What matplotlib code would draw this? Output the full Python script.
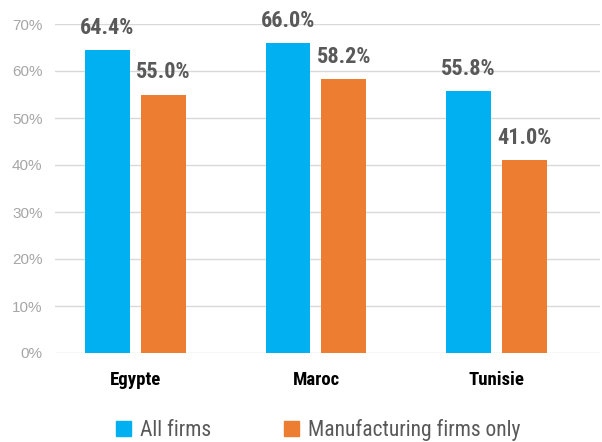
import numpy as np
import matplotlib.pyplot as plt
from matplotlib.patches import Patch

countries = ['Egypte', 'Maroc', 'Tunisie']
all_firms = [64.4, 66.0, 55.8]
manuf_only = [55.0, 58.2, 41.0]
series_names = ['All firms', 'Manufacturing firms only']

BLUE = '#00B0F0'
ORANGE = '#ED7D31'
NARROW = ['Roboto Condensed', 'Liberation Sans Narrow', 'Liberation Sans']

fig = plt.figure(figsize=(6.02, 4.42), dpi=100)
ax = fig.add_axes([55 / 602, 89 / 442, 545 / 602, 329 / 442])

x = np.arange(len(countries))
w = 0.249
off = 0.155
b1 = ax.bar(x - off, all_firms, w, color=BLUE, zorder=3)
b2 = ax.bar(x + off, manuf_only, w, color=ORANGE, zorder=3)

# valeurs au-dessus des barres
for bars, vals in ((b1, all_firms), (b2, manuf_only)):
    for rect, v in zip(bars, vals):
        ax.annotate(f'{v:.1f}%', (rect.get_x() + rect.get_width() / 2, v),
                    xytext=(0, 8), textcoords='offset points',
                    ha='center', va='bottom', fontsize=16, fontweight='bold',
                    color='#595959', family=NARROW)

ax.set_xlim(-0.446, 2.574)
ax.set_ylim(0, 70)
ax.set_yticks(np.arange(0, 71, 10))
ax.set_yticklabels([f'{t}%' for t in range(0, 71, 10)], fontsize=11,
                   color='#A6A6A6', family='Liberation Sans')
ax.set_xticks(x)
ax.set_xticklabels(countries, fontsize=13.5, fontweight='bold', color='black',
                   family=NARROW)
ax.tick_params(axis='both', length=0)
ax.tick_params(axis='x', pad=13)
ax.tick_params(axis='y', pad=9)
ax.grid(axis='y', color='#D9D9D9', lw=1, zorder=0)
for s in ax.spines.values():
    s.set_visible(False)

handles = [Patch(color=BLUE), Patch(color=ORANGE)]
fig.legend(handles, series_names, loc='center', bbox_to_anchor=(318 / 602, 12 / 442),
           ncol=2, frameon=False, handlelength=0.7, handleheight=0.7,
           handletextpad=0.4, columnspacing=3.4,
           prop={'family': NARROW, 'size': 15.5}, labelcolor='#595959')

fig.savefig('out.png', dpi=100)
